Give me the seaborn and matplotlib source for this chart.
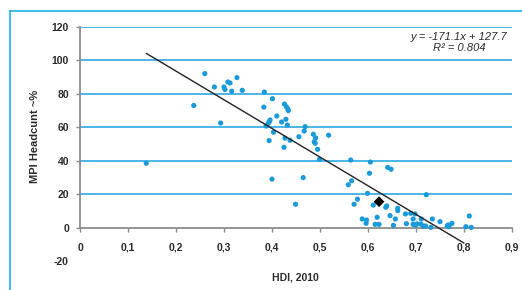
import matplotlib
matplotlib.use("Agg")
import matplotlib.pyplot as plt
from matplotlib.lines import Line2D
import seaborn as sns
import pandas as pd
import numpy as np

# ---- data ----
hdi = [0.138, 0.237, 0.26, 0.28, 0.293, 0.30, 0.302, 0.308, 0.3125, 0.316, 0.327, 0.338,
       0.384, 0.401, 0.383, 0.426, 0.43, 0.433, 0.434, 0.41, 0.396, 0.394, 0.392, 0.42,
       0.429, 0.432, 0.3875, 0.403, 0.394, 0.427, 0.425, 0.4375, 0.456, 0.469, 0.467,
       0.486, 0.491, 0.488, 0.49, 0.495, 0.518, 0.499, 0.465, 0.40, 0.449, 0.564, 0.605,
       0.603, 0.641, 0.648, 0.566, 0.559, 0.599, 0.578, 0.571, 0.611, 0.639, 0.637, 0.662,
       0.662, 0.7215, 0.678, 0.689, 0.698, 0.646, 0.588, 0.597, 0.596, 0.619, 0.657, 0.694,
       0.615, 0.623, 0.653, 0.68, 0.694, 0.699, 0.702, 0.71, 0.715, 0.72, 0.711, 0.734,
       0.731, 0.75, 0.767, 0.769, 0.765, 0.775, 0.811, 0.804, 0.815]
mpi = [38.5, 73, 92, 84, 62.5, 84, 82.5, 87, 86.4, 81.5, 89.6, 82,
       81, 77, 72, 73.8, 72.2, 70.9, 69.9, 66.7, 64.3, 63.1, 62.3, 63.1,
       64.7, 61.3, 60.7, 57, 52, 53.5, 48, 52.2, 54.3, 60.3, 57.7,
       55.8, 53.6, 51.3, 50.4, 46.8, 55.2, 40.8, 29.9, 29, 14, 40.4, 39.2,
       32.5, 36, 34.9, 28, 25.6, 20.5, 17, 14, 13.5, 13, 12.2, 11.6,
       10.2, 19.7, 8.2, 8.6, 8.2, 7.2, 5.2, 4.6, 2.6, 6.2, 5.2, 5.2,
       2.0, 2.0, 1.4, 2.4, 2.0, 1.5, 2.3, 2.2, 1.0, 1.0, 5.2, 5.2,
       0.2, 3.6, 1.6, 0.6, 1.0, 2.6, 7, 0.6, 0.2]
highlight_hdi = [0.623]
highlight_mpi = [15.5]
slope = -171.1
intercept = 127.7
r2 = 0.804
trend_x = [0.138, 0.80]

x_ticks = [0, 0.1, 0.2, 0.3, 0.4, 0.5, 0.6, 0.7, 0.8, 0.9]
x_tick_labels = ["0", "0,1", "0,2", "0,3", "0,4", "0,5", "0,6", "0,7", "0,8", "0,9"]
y_ticks = [-20, 0, 20, 40, 60, 80, 100, 120]
y_tick_labels = ["-20", "0", "20", "40", "60", "80", "100", "120"]
x_label = "HDI, 2010"
y_label = "MPI Headcunt ~%"

# ---- styling ----
sns.set_style("white")
plt.rcParams['font.family'] = ['Liberation Sans', 'DejaVu Sans']

W, H = 522, 290
fig = plt.figure(figsize=(W / 100, H / 100), dpi=100)
ax = fig.add_axes([80 / W, 1 - 261.2 / H, 432 / W, (261.2 - 26.7) / H])

grid_color = "#2eaae2"
point_color = "#1a9ad8"
axis_color = "#8c8c8c"
text_color = "#2b2b2b"

# gridlines (20..120)
for yv in y_ticks:
    if yv > 0:
        ax.axhline(yv, color=grid_color, lw=1.2, zorder=0)

df = pd.DataFrame({"HDI": hdi, "MPI": mpi})
sns.scatterplot(data=df, x="HDI", y="MPI", ax=ax, color=point_color, s=14,
                edgecolor="none", zorder=3, clip_on=False)

tx = np.array(trend_x)
sns.lineplot(x=tx, y=slope * tx + intercept, ax=ax, color="#222222", lw=1.0, zorder=4)

sns.scatterplot(x=highlight_hdi, y=highlight_mpi, ax=ax, color="black", marker="D",
                s=30, edgecolor="none", zorder=5)

ax.set_xlim(0, 0.9)
ax.set_ylim(-20, 120)

for s in ["top", "right"]:
    ax.spines[s].set_visible(False)
ax.spines["bottom"].set_position(("data", 0))
ax.spines["left"].set_bounds(0, 120)
for s in ["bottom", "left"]:
    ax.spines[s].set_color(axis_color)
    ax.spines[s].set_linewidth(1.3)

ax.set_xticks(x_ticks)
ax.set_xticklabels(x_tick_labels)
ax.set_yticks(y_ticks)
ax.set_yticklabels(y_tick_labels)
ax.tick_params(axis="x", direction="out", length=3, width=1, color=axis_color, pad=8,
               labelsize=7.5, labelcolor=text_color, bottom=True)
ax.tick_params(axis="y", direction="out", length=3, width=1, color=axis_color, pad=5,
               labelsize=7.5, labelcolor=text_color, left=True)
for lbl in ax.get_xticklabels() + ax.get_yticklabels():
    lbl.set_fontweight("bold")
# hide the tick mark at -20 (axis line does not reach there)
ax.yaxis.get_major_ticks()[0].tick1line.set_visible(False)

ax.set_xlabel("")
ax.set_ylabel("")
fig.text(295 / W, 1 - 277 / H, x_label, ha="center", va="center", fontsize=7.5,
         fontweight="bold", color=text_color)
fig.text(35 / W, 1 - 136 / H, y_label, ha="center", va="center", rotation=90,
         fontsize=8, fontweight="bold", color=text_color)

eq = f"y = {slope}x + {intercept}\nR² = {r2}"
fig.text(459 / W, 1 - 42.5 / H, eq, ha="center", va="center", multialignment="center",
         fontsize=8, fontstyle="italic", color=text_color, linespacing=1.1)

# outer chart border (top and left visible)
border = "#1ab0ea"
fig.add_artist(Line2D([9.5 / W, 1], [1 - 10.5 / H, 1 - 10.5 / H], color=border, lw=1.2,
                      transform=fig.transFigure))
fig.add_artist(Line2D([9.5 / W, 9.5 / W], [0, 1 - 10.5 / H], color=border, lw=1.2,
                      transform=fig.transFigure))

fig.savefig("out.png", dpi=100)
